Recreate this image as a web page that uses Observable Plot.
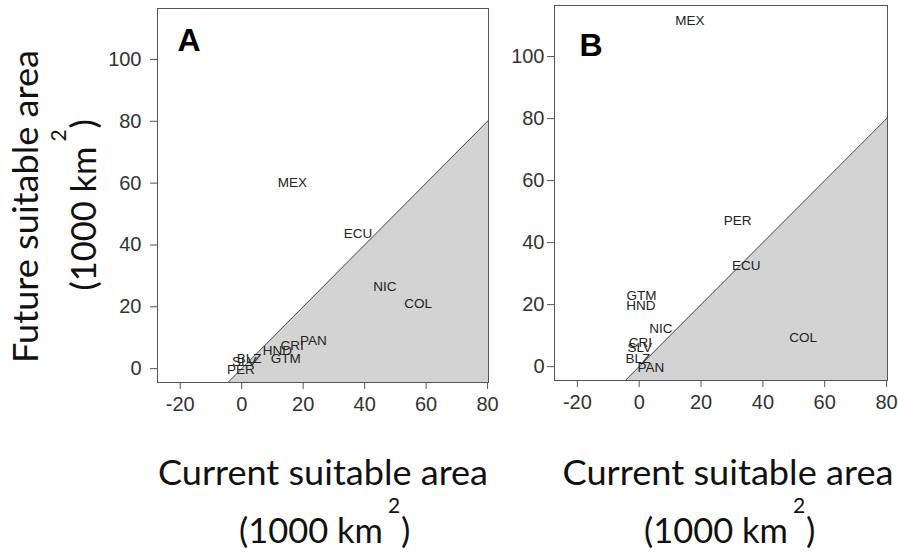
<!DOCTYPE html>
<html>
<head>
<meta charset="utf-8">
<script src="https://cdn.jsdelivr.net/npm/d3@7"></script>
<script src="https://cdn.jsdelivr.net/npm/@observablehq/plot@0.6"></script>
<style>
  html, body { margin: 0; padding: 0; background: #fff; }
  #wrap { position: relative; width: 898px; height: 556px; overflow: hidden; }
  #wrap > svg, #wrap > div { position: absolute; }
  #titles { left: 0; top: 0; pointer-events: none; }
</style>
</head>
<body>
<div id="wrap"></div>
<script>
// ---- data ----
const xTicks = [-20, 0, 20, 40, 60, 80];
const yTicks = [0, 20, 40, 60, 80, 100];
const refLine = [-10, 90]; // y = x reference line

const countriesA = ["MEX", "ECU", "NIC", "COL", "PAN", "CRI", "HND", "GTM", "BLZ", "SLV", "PER"];
const currentA   = [16.5, 37.8, 46.6, 57.4, 23.3, 16.4, 11.6, 14.3, 2.4, 0.8, -0.3];
const futureA    = [60.0, 43.5, 26.5, 21.1, 9.0, 7.3, 5.7, 3.2, 3.2, 2.1, -0.2];

const countriesB = ["MEX", "PER", "ECU", "GTM", "HND", "NIC", "COL", "CRI", "SLV", "BLZ", "PAN"];
const currentB   = [16.4, 31.8, 34.6, 0.7, 0.5, 7.0, 53.0, 0.4, 0.2, -0.4, 3.8];
const futureB    = [111.6, 47.0, 32.4, 23.0, 19.5, 12.2, 9.2, 7.7, 6.2, 2.7, -0.5];

const panelLetters = ["A", "B"];
const xTitle = "Current suitable area";
const yTitle = "Future suitable area";
const unitText = "(1000 km";
const unitSup = "2";
const unitClose = ")";

const toRows = (names, xs, ys) => names.map((n, i) => ({name: n, current: xs[i], future: ys[i]}));
const dataA = toRows(countriesA, currentA, futureA);
const dataB = toRows(countriesB, currentB, futureB);

const wrap = document.getElementById("wrap");

function panel(data, letter, opts) {
  const p = Plot.plot({
    width: opts.width, height: 420,
    marginLeft: opts.ml, marginRight: opts.mr, marginTop: opts.mt, marginBottom: opts.mb,
    x: {domain: [-27.4, 80.3], label: null},
    y: {domain: [-4.48, 116.48], label: null},
    style: {fontFamily: "'Liberation Sans', Arial, sans-serif", fontSize: "20px", color: "#333", background: "transparent", overflow: "visible"},
    marks: [
      Plot.areaY(refLine, {x: d => d, y1: -10, y2: d => d, fill: "#d3d3d3", clip: true}),
      Plot.line(refLine, {x: d => d, y: d => d, stroke: "#555", strokeWidth: 1, clip: true}),
      Plot.frame({stroke: "#555", strokeWidth: 1}),
      Plot.axisX({ticks: xTicks, tickFormat: d => String(d), tickSize: 7, tickPadding: 7, stroke: "#555"}),
      Plot.axisY({ticks: yTicks, tickFormat: d => String(d), tickSize: 7, tickPadding: opts.ypad, stroke: "#555"}),
      Plot.text(data, {x: "current", y: "future", text: "name", fontSize: 13.5, fill: "#222", fontFamily: "'Liberation Sans', Arial, sans-serif"}),
      Plot.text([letter], {frameAnchor: "top-left", dx: opts.ldx, dy: opts.ldy, lineAnchor: "top", textAnchor: "start", fontSize: 32, fontWeight: "bold", fill: "#000"})
    ]
  });
  p.style.left = opts.left + "px";
  p.style.top = "0px";
  wrap.appendChild(p);
}

panel(dataA, panelLetters[0], {left: 0, width: 500, ml: 157, mr: 12, mt: 8, mb: 38, ypad: 9, ldx: 20, ldy: 20});
panel(dataB, panelLetters[1], {left: 500, width: 398, ml: 54, mr: 11, mt: 5, mb: 40, ypad: 3, ldx: 25, ldy: 28});

// ---- axis titles ----
const tsvg = d3.create("svg").attr("id", "titles").attr("width", 898).attr("height", 556)
  .style("font-family", "Lato, 'Open Sans', sans-serif").style("fill", "#111");

function addTitle(g, line1, len1) {
  g.append("text").attr("x", 0).attr("y", 0).attr("text-anchor", "middle")
    .attr("font-size", 35).attr("textLength", len1).attr("lengthAdjust", "spacingAndGlyphs").text(line1);
  g.append("text").attr("x", -84).attr("y", 58).attr("font-size", 35)
    .attr("textLength", 144).attr("lengthAdjust", "spacingAndGlyphs").text(unitText);
  g.append("text").attr("x", 65).attr("y", 28).attr("font-size", 21).text(unitSup);
  g.append("text").attr("x", 78).attr("y", 58).attr("font-size", 35).text(unitClose);
}
addTitle(tsvg.append("g").attr("transform", "translate(323,485)"), xTitle, 330);
addTitle(tsvg.append("g").attr("transform", "translate(728,485)"), xTitle, 331);
addTitle(tsvg.append("g").attr("transform", "translate(38,206.5) rotate(-90)"), yTitle, 313);
wrap.appendChild(tsvg.node());
</script>
</body>
</html>
